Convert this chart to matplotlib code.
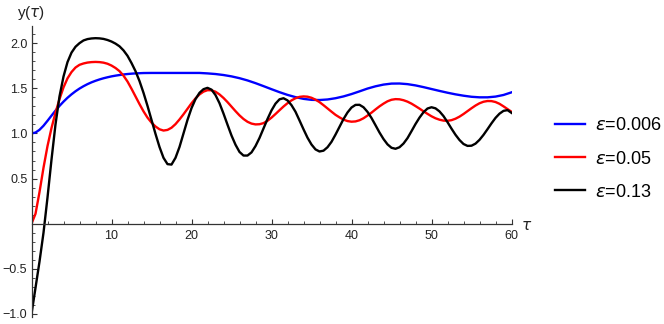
import numpy as np
import matplotlib
matplotlib.use("Agg")
import matplotlib.pyplot as plt
from matplotlib.ticker import MultipleLocator, FixedLocator

plt.rcParams['font.family'] = ['Liberation Sans', 'DejaVu Sans']
plt.rcParams['mathtext.fontset'] = 'dejavusans'

# ---- data ----
t_fine = np.arange(0, 60.01, 0.5)
t_blue = np.concatenate([np.arange(0, 14.01, 0.5), np.arange(15, 60.01, 1.0)])

labels = ["$\\epsilon$=0.006", "$\\epsilon$=0.05", "$\\epsilon$=0.13"]
colors = ["#0000ff", "#ff0000", "#000000"]

y_blue = [1.000, 1.010, 1.040, 1.085, 1.140, 1.197, 1.253, 1.305, 1.352, 1.395,
          1.433, 1.467, 1.497, 1.523, 1.546, 1.566, 1.583, 1.598, 1.611, 1.622,
          1.632, 1.640, 1.647, 1.653, 1.658, 1.662, 1.665, 1.667, 1.669,
          1.670, 1.670, 1.670, 1.670, 1.670, 1.670, 1.670, 1.665, 1.658, 1.647,
          1.632, 1.612, 1.587, 1.557, 1.524, 1.490, 1.457, 1.427, 1.402, 1.383,
          1.372, 1.370, 1.376, 1.390, 1.410, 1.436, 1.466, 1.497, 1.522, 1.541,
          1.552, 1.553, 1.546, 1.532, 1.513, 1.492, 1.471, 1.451, 1.433, 1.418,
          1.406, 1.400, 1.400, 1.408, 1.426, 1.455]

y_red = [0.00, 0.11, 0.35, 0.62, 0.86, 1.06, 1.23, 1.38, 1.51, 1.61,
         1.68, 1.73, 1.76, 1.775, 1.785, 1.79, 1.792, 1.79, 1.784, 1.772,
         1.752, 1.725, 1.69, 1.64, 1.575, 1.495, 1.41, 1.325, 1.245, 1.175,
         1.12, 1.077, 1.046, 1.032, 1.039, 1.063, 1.103, 1.155, 1.212, 1.273,
         1.334, 1.388, 1.432, 1.463, 1.479, 1.478, 1.462, 1.432, 1.393, 1.347,
         1.297, 1.247, 1.20, 1.16, 1.129, 1.109, 1.10, 1.102, 1.114, 1.14,
         1.175, 1.215, 1.257, 1.298, 1.335, 1.366, 1.39, 1.405, 1.41, 1.407,
         1.395, 1.374, 1.347, 1.313, 1.277, 1.241, 1.206, 1.178, 1.153, 1.137,
         1.13, 1.133, 1.146, 1.168, 1.198, 1.23, 1.266, 1.30, 1.33, 1.356,
         1.373, 1.38, 1.378, 1.368, 1.352, 1.33, 1.303, 1.275, 1.245, 1.217,
         1.19, 1.168, 1.152, 1.142, 1.14, 1.147, 1.163, 1.186, 1.215, 1.247,
         1.279, 1.309, 1.334, 1.351, 1.359, 1.358, 1.348, 1.328, 1.30, 1.27,
         1.24]

y_black = [-1.00, -0.71, -0.42, -0.10, 0.29, 0.71, 1.10, 1.41, 1.63, 1.79,
           1.895, 1.96, 2.00, 2.03, 2.045, 2.052, 2.055, 2.053, 2.047, 2.035,
           2.018, 1.995, 1.965, 1.92, 1.86, 1.78, 1.69, 1.58, 1.45, 1.305,
           1.15, 0.995, 0.85, 0.73, 0.66, 0.655, 0.73, 0.85, 1.00, 1.15,
           1.28, 1.38, 1.45, 1.49, 1.505, 1.485, 1.425, 1.335, 1.22, 1.097,
           0.977, 0.875, 0.795, 0.755, 0.755, 0.79, 0.86, 0.95, 1.055, 1.16,
           1.255, 1.33, 1.378, 1.39, 1.366, 1.313, 1.24, 1.144, 1.046, 0.953,
           0.877, 0.823, 0.80, 0.809, 0.847, 0.907, 0.987, 1.073, 1.159, 1.232,
           1.287, 1.316, 1.317, 1.29, 1.239, 1.171, 1.091, 1.01, 0.938, 0.879,
           0.841, 0.83, 0.847, 0.888, 0.948, 1.025, 1.104, 1.175, 1.235, 1.276,
           1.29, 1.278, 1.244, 1.192, 1.125, 1.053, 0.985, 0.927, 0.883, 0.862,
           0.864, 0.887, 0.929, 0.984, 1.047, 1.112, 1.172, 1.219, 1.25, 1.258,
           1.228]

x_major = [10, 20, 30, 40, 50, 60]
y_major = [-1.0, -0.5, 0.5, 1.0, 1.5, 2.0]

# ---- figure ----
W, H = 664, 324
fig = plt.figure(figsize=(W / 100, H / 100), dpi=100)
x0, x1 = 31.5, 511.5
ytop_px, ybot_px = 26.0, 316.7
ax = fig.add_axes([x0 / W, (H - ybot_px) / H, (x1 - x0) / W, (ybot_px - ytop_px) / H])
ax.set_xlim(0, 60)
ax.set_ylim(-1.03, 2.19)

lw = 1.7
ax.plot(t_blue, y_blue, color=colors[0], lw=lw, label=labels[0])
ax.plot(t_fine, y_red, color=colors[1], lw=lw, label=labels[1])
ax.plot(t_fine, y_black, color=colors[2], lw=lw, label=labels[2])

axcol = '#333333'
for s in ['top', 'right']:
    ax.spines[s].set_visible(False)
ax.spines['left'].set_position(('data', 0))
ax.spines['bottom'].set_position(('data', 0))
for s in ['left', 'bottom']:
    ax.spines[s].set_color(axcol)
    ax.spines[s].set_linewidth(0.9)

ax.xaxis.set_major_locator(FixedLocator(x_major))
ax.xaxis.set_minor_locator(MultipleLocator(2))
ax.yaxis.set_major_locator(FixedLocator(y_major))
ax.yaxis.set_minor_locator(MultipleLocator(0.1))
ax.set_xticklabels([str(v) for v in x_major])
ax.set_yticklabels([f"{v:.1f}".replace('-', '\u2212') for v in y_major])

ax.tick_params(axis='both', which='major', direction='in', length=3.8, width=0.8,
               color=axcol, labelsize=9, labelcolor='#222222')
ax.tick_params(axis='both', which='minor', direction='in', length=2.2, width=0.6,
               color=axcol)
ax.tick_params(axis='x', which='major', pad=4.5)
ax.tick_params(axis='y', which='major', pad=3)

fig.text(17 / W, 1 - 13 / H, "y($\\tau$)", fontsize=11, color='#222222', ha='left', va='center')
fig.text(521 / W, 1 - 226 / H, "$\\tau$", fontsize=11, color='#222222', ha='left', va='center')

fig.legend(loc='center left', bbox_to_anchor=(555 / W, 1 - 159 / H), frameon=False,
           fontsize=13, handlelength=1.65, handletextpad=0.55, labelspacing=0.9,
           borderpad=0, borderaxespad=0)

fig.savefig("out.png", dpi=100)
